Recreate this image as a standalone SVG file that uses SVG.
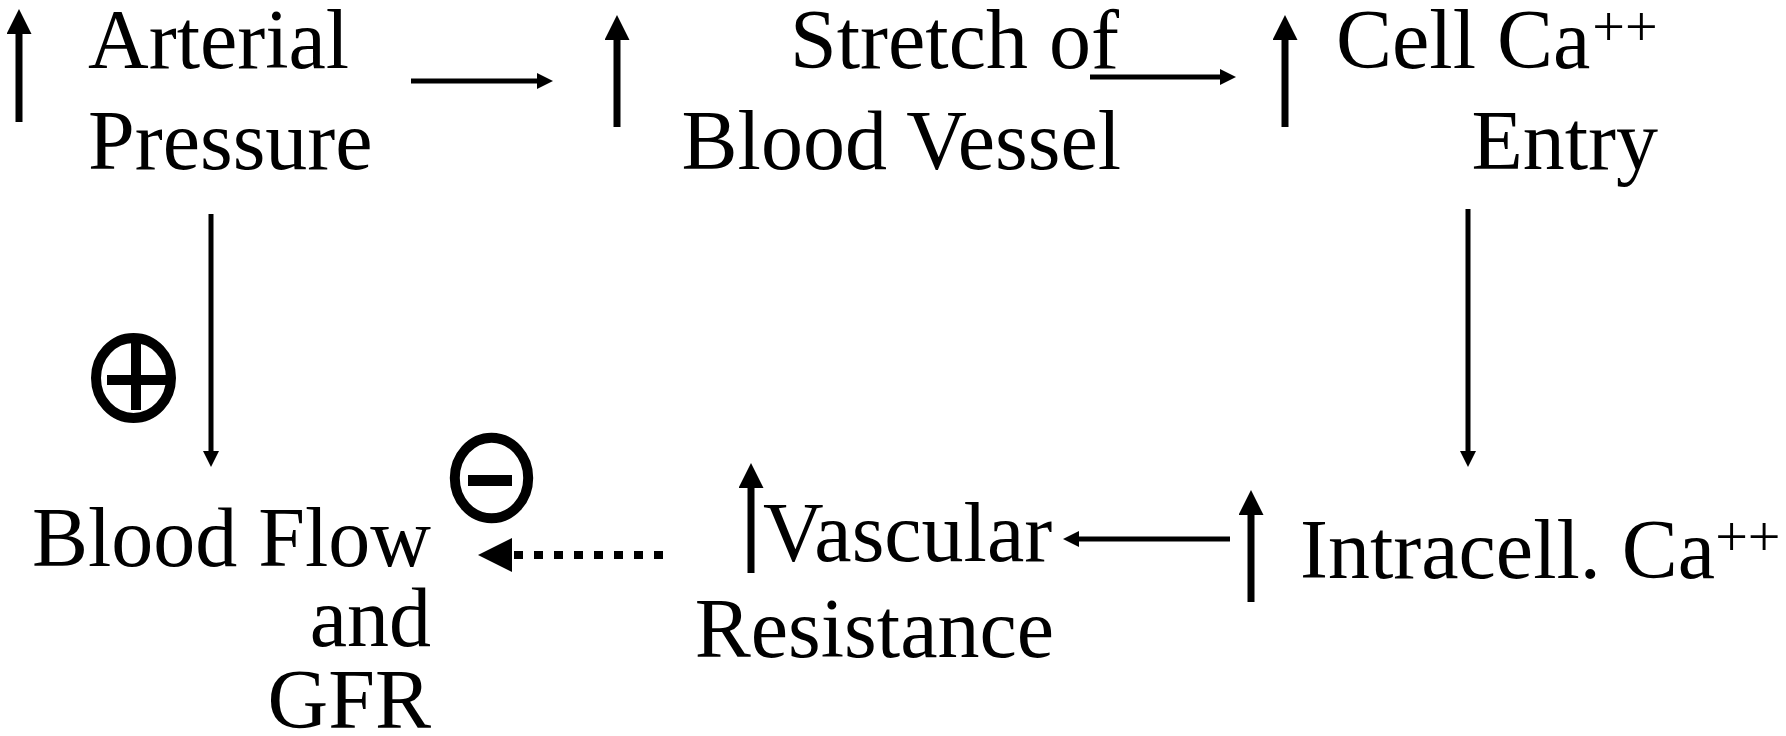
<svg xmlns="http://www.w3.org/2000/svg" width="1786" height="736" viewBox="0 0 1786 736">
  <style>
    .t { font-family: "Liberation Serif", "Times New Roman", serif; font-size: 84px; fill: #000; }
    .sup { font-size: 58px; }
    .up { stroke: #000; stroke-width: 7; fill: none; marker-end: url(#bigHead); }
    .con { stroke: #000; stroke-width: 5; fill: none; marker-end: url(#head); }
    .dot { stroke: #000; stroke-width: 8; fill: none; stroke-dasharray: 9 11; marker-end: url(#dotHead); }
    .ring { fill: none; stroke: #000; stroke-width: 10; }
  </style>
  <defs>
    <marker id="bigHead" markerUnits="userSpaceOnUse" markerWidth="25" markerHeight="25" viewBox="0 0 25 25" refX="0" refY="12.5" orient="auto">
      <path d="M0,0 L25,12.5 L0,25 Z" fill="#000"/>
    </marker>
    <marker id="head" markerUnits="userSpaceOnUse" markerWidth="16" markerHeight="16" viewBox="0 0 16 16" refX="0" refY="8" orient="auto">
      <path d="M0,0 L16,8 L0,16 Z" fill="#000"/>
    </marker>
    <marker id="dotHead" markerUnits="userSpaceOnUse" markerWidth="34" markerHeight="34" viewBox="0 0 34 34" refX="0" refY="17" orient="auto">
      <path d="M0,0 L34,17 L0,34 Z" fill="#000"/>
    </marker>
  </defs>

  <g id="n-arterial">
    <line class="up" x1="19" y1="122" x2="19" y2="34"/>
    <text class="t" x="88" y="68">Arterial</text>
    <text class="t" x="88" y="169">Pressure</text>
  </g>

  <g id="n-stretch">
    <line class="up" x1="617" y1="127" x2="617" y2="40"/>
    <text class="t" x="790" y="68">Stretch of</text>
    <text class="t" x="1121" y="169" text-anchor="end">Blood Vessel</text>
  </g>

  <g id="n-cellca">
    <line class="up" x1="1285" y1="127" x2="1285" y2="40"/>
    <text class="t" x="1336" y="68">Cell Ca<tspan class="sup" dx="2" y="46">++</tspan></text>
    <text class="t" x="1658" y="169" text-anchor="end">Entry</text>
  </g>

  <g id="n-intracell">
    <line class="up" x1="1251" y1="602" x2="1251" y2="515"/>
    <text class="t" x="1300" y="578">Intracell. Ca<tspan class="sup" y="556">++</tspan></text>
  </g>

  <g id="n-vascular">
    <line class="up" x1="751" y1="573" x2="751" y2="488"/>
    <text class="t" x="763" y="561">Vascular</text>
    <text class="t" x="1054" y="657" text-anchor="end">Resistance</text>
  </g>

  <g id="n-bloodflow">
    <text class="t" x="431" y="566" text-anchor="end">Blood Flow</text>
    <text class="t" x="431" y="646" text-anchor="end">and</text>
    <text class="t" x="431" y="728" text-anchor="end">GFR</text>
  </g>

  <g id="connectors">
    <line class="con" x1="411" y1="81" x2="537" y2="81"/>
    <line class="con" x1="1090" y1="77" x2="1220" y2="77"/>
    <line class="con" x1="1468" y1="209" x2="1468" y2="451"/>
    <line class="con" x1="1230" y1="539" x2="1079" y2="539"/>
    <line class="con" x1="211" y1="214" x2="211" y2="451"/>
    <line class="dot" x1="663" y1="555" x2="512" y2="555"/>
  </g>

  <g id="sign-plus">
    <ellipse class="ring" cx="133.5" cy="378" rx="37.5" ry="40"/>
    <rect x="131" y="343" width="10" height="67" fill="#000"/>
    <rect x="107" y="375" width="63" height="10" fill="#000"/>
  </g>

  <g id="sign-minus">
    <ellipse class="ring" cx="491.5" cy="478" rx="36.7" ry="40.3"/>
    <rect x="468" y="475" width="44" height="11" fill="#000"/>
  </g>
</svg>
